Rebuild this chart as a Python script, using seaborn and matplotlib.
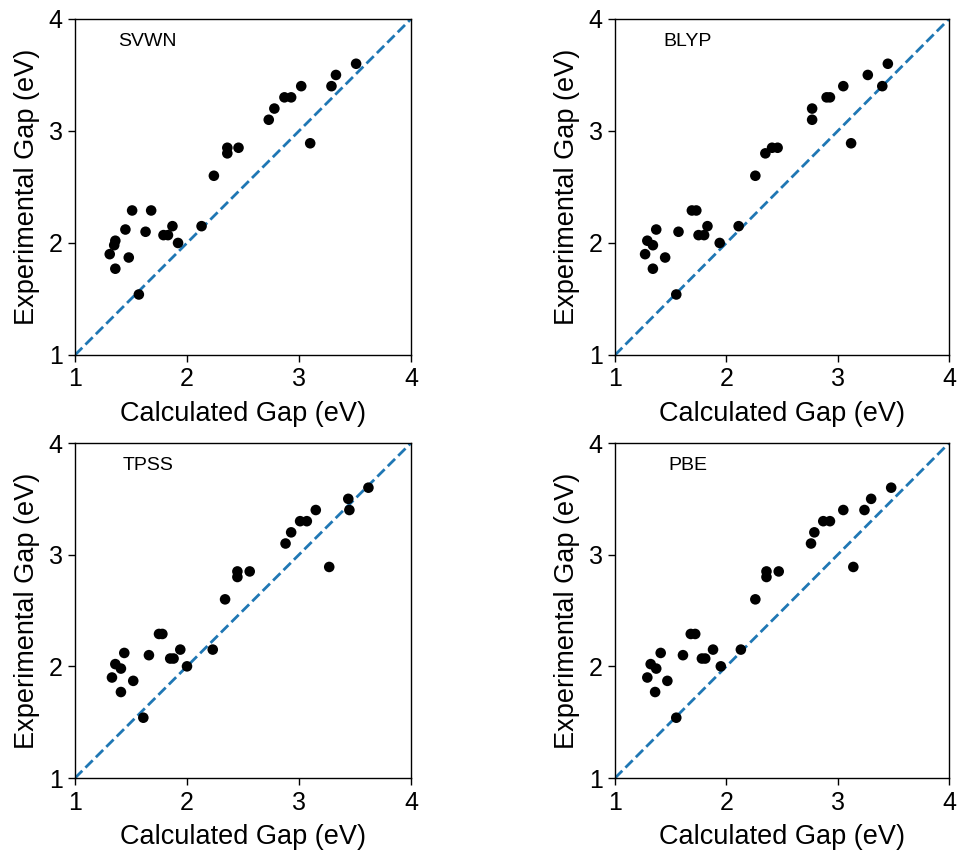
import numpy as np
import pandas as pd
import matplotlib
matplotlib.use("Agg")
import matplotlib.pyplot as plt
import seaborn as sns

# Experimental gaps (shared by all panels)
experimental = [3.6, 3.5, 3.4, 3.4, 3.3, 3.3, 3.2, 3.1, 2.89, 2.85, 2.85, 2.8, 2.6,
                2.29, 2.29, 2.12, 2.1, 2.15, 2.15, 2.07, 2.07, 2.0, 2.02, 1.98,
                1.9, 1.87, 1.77, 1.54]

svwn = [3.51, 3.33, 3.29, 3.02, 2.87, 2.93, 2.78, 2.73, 3.10, 2.36, 2.46, 2.36, 2.24,
        1.51, 1.68, 1.45, 1.63, 1.87, 2.13, 1.79, 1.83, 1.92, 1.36, 1.35,
        1.31, 1.48, 1.36, 1.57]
blyp = [3.45, 3.27, 3.40, 3.05, 2.90, 2.93, 2.77, 2.77, 3.12, 2.41, 2.46, 2.35, 2.26,
        1.69, 1.73, 1.37, 1.57, 1.83, 2.11, 1.75, 1.80, 1.94, 1.29, 1.34,
        1.27, 1.45, 1.34, 1.55]
tpss = [3.62, 3.44, 3.45, 3.15, 3.01, 3.07, 2.93, 2.88, 3.27, 2.45, 2.56, 2.45, 2.34,
        1.75, 1.78, 1.44, 1.66, 1.94, 2.23, 1.85, 1.88, 2.00, 1.36, 1.41,
        1.33, 1.52, 1.41, 1.61]
pbe = [3.48, 3.30, 3.24, 3.05, 2.87, 2.93, 2.79, 2.76, 3.14, 2.36, 2.47, 2.36, 2.26,
       1.68, 1.72, 1.41, 1.61, 1.88, 2.13, 1.78, 1.81, 1.95, 1.32, 1.37,
       1.29, 1.47, 1.36, 1.55]

methods = ["SVWN", "BLYP", "TPSS", "PBE"]
calc = {"SVWN": svwn, "BLYP": blyp, "TPSS": tpss, "PBE": pbe}
ticks = [1, 2, 3, 4]

sns.set_style("ticks")
plt.rcParams['font.family'] = ['Liberation Sans', 'DejaVu Sans']
plt.rcParams['text.color'] = 'black'
plt.rcParams['axes.labelcolor'] = 'black'
plt.rcParams['xtick.color'] = 'black'
plt.rcParams['ytick.color'] = 'black'

fig = plt.figure(figsize=(9.58, 8.5), dpi=100)
positions = [
    [0.0783, 0.5824, 0.3507, 0.3953],
    [0.6420, 0.5824, 0.3487, 0.3953],
    [0.0783, 0.0847, 0.3507, 0.3941],
    [0.6420, 0.0847, 0.3487, 0.3941],
]

for m, pos in zip(methods, positions):
    ax = fig.add_axes(pos)
    df = pd.DataFrame({"calc": calc[m], "exp": experimental})
    ax.plot(ticks, ticks, linestyle="--", color="#1f77b4", lw=2, zorder=1)
    sns.scatterplot(data=df, x="calc", y="exp", ax=ax, color="black",
                    s=58, edgecolor="none", zorder=2)
    ax.set_xlim(1, 4)
    ax.set_ylim(1, 4)
    ax.set_xticks(ticks)
    ax.set_yticks(ticks)
    ax.tick_params(labelsize=18, direction="out", length=5, width=1,
                   colors="black", pad=4)
    for sp in ax.spines.values():
        sp.set_visible(True)
        sp.set_color("black")
        sp.set_linewidth(1)
    ax.set_xlabel("Calculated Gap (eV)", fontsize=19.5, labelpad=7)
    ax.set_ylabel("Experimental Gap (eV)", fontsize=19.5, labelpad=6)
    ax.text(1.65, 3.8, m, ha="center", va="center", fontsize=14)

fig.savefig("out.png", dpi=100)
